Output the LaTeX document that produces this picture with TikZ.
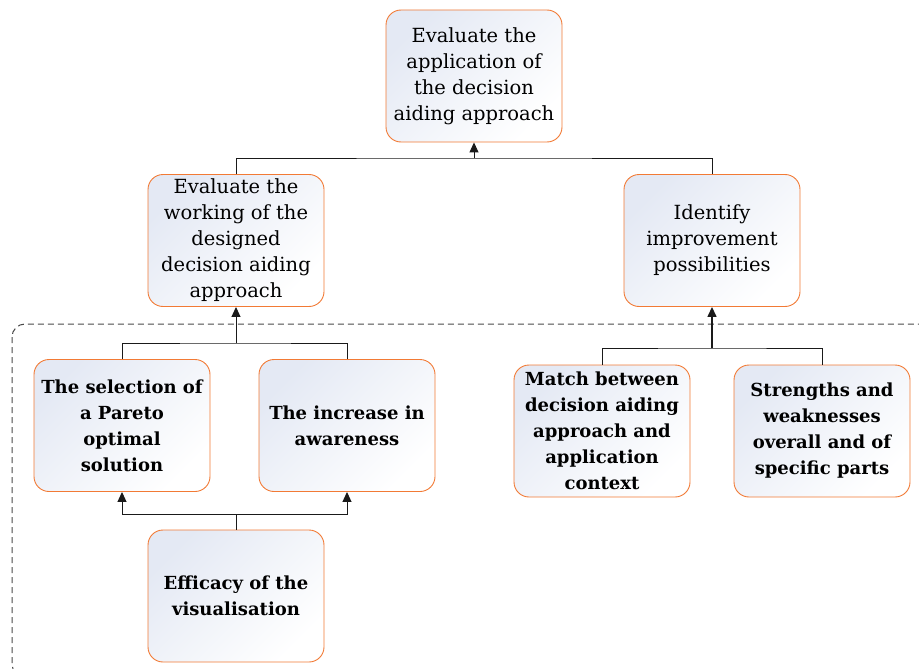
\documentclass[tikz,border=0pt]{standalone}
\usepackage{fontspec}
\setmainfont{DejaVu Serif}
\usetikzlibrary{arrows.meta,shadings}

\definecolor{boxline}{HTML}{F27A35}
\definecolor{boxtint}{HTML}{E4E9F4}
\definecolor{wireline}{HTML}{1A1A1A}
\definecolor{dashline}{HTML}{4A4A4A}

\tikzset{
  goalbox/.style={
    rectangle, rounded corners=15pt, draw=boxline, line width=0.9pt,
    minimum width=176pt, minimum height=132pt,
    align=center, inner sep=2pt,
    top color=boxtint, bottom color=white, shading angle=45,
    font=\fontsize{19.5}{26}\selectfont
  },
  subbox/.style={goalbox, font=\fontsize{18}{26}\selectfont\bfseries},
  wire/.style={draw=wireline, line width=1pt},
  uparrow/.style={wire, -{Triangle[length=10pt,width=9pt]}}
}

\begin{document}
\begin{tikzpicture}[x=1pt,y=-1pt]
  \useasboundingbox (0,0) rectangle (919,669);

  % dashed frame around the lower criteria
  \begin{scope}
    \clip (0,0) rectangle (919,669);
    \draw[dashline, line width=1pt, dash pattern=on 6pt off 4pt, rounded corners=13pt]
      (12,324) rectangle (940,677);
  \end{scope}

  % top level goal
  \node[goalbox] (top) at (474,76) {Evaluate the\\application of\\the decision\\aiding approach};

  % second level
  \node[goalbox] (work) at (236,240.5) {Evaluate the\\working of the\\designed\\decision aiding\\approach};
  \node[goalbox] (impr) at (712,240.5) {Identify\\improvement\\possibilities};

  % third level
  \node[subbox] (pareto) at (122,425.5) {The selection of\\a Pareto\\optimal\\solution};
  \node[subbox] (aware) at (347,425.5) {The increase in\\awareness};
  \node[subbox] (match) at (602,431) {Match between\\decision aiding\\approach and\\application\\context};
  \node[subbox] (strength) at (822,431) {Strengths and\\weaknesses\\overall and of\\specific parts};

  % fourth level
  \node[subbox] (vis) at (236,596) {Efficacy of the\\visualisation};

  % junction points of the tree connectors
  \coordinate (j1) at (474,158);
  \coordinate (j2) at (236,343);
  \coordinate (j3) at (712,348);
  \coordinate (j4) at (236,514);

  % connectors
  \draw[wire] (work.north) |- (j1) -| (impr.north);
  \draw[uparrow] (j1) -- (top.south);

  \draw[wire] (pareto.north) |- (j2) -| (aware.north);
  \draw[uparrow] (j2) -- (work.south);

  \draw[wire] (match.north) |- (j3) -| (strength.north);
  \draw[uparrow, line width=1.4pt] (j3) -- (impr.south);

  \draw[wire] (vis.north) -- (j4);
  \draw[uparrow] (j4) -| (pareto.south);
  \draw[uparrow] (j4) -| (aware.south);
\end{tikzpicture}
\end{document}
